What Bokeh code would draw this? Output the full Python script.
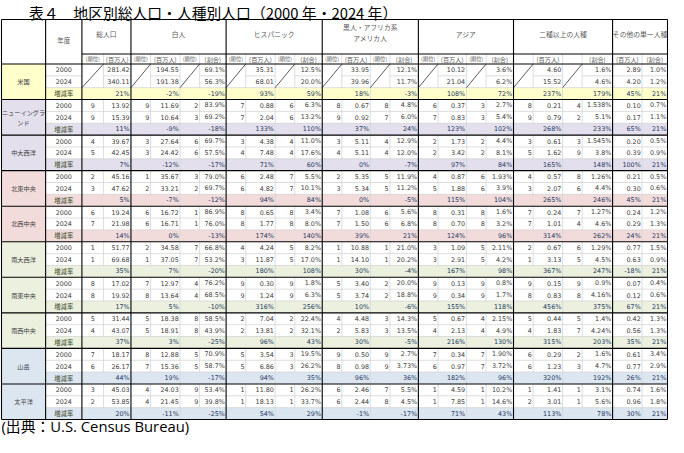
from bokeh.plotting import figure
from bokeh.models import Range1d, ColumnDataSource
from bokeh.core.properties import value
from bokeh.embed import file_html
from bokeh.resources import INLINE

title_text = "表４　地区別総人口・人種別人口（2000 年・2024 年）"
source_text = "(出典：U.S. Census Bureau)"
year_header = "年度"
regions = ["米国", "ニューイングランド", "中大西洋", "北東中央", "北西中央",
           "南大西洋", "南東中央", "南西中央", "山岳", "太平洋"]
row_labels = ["2000", "2024", "増減率"]
groups = ["総人口", "白人", "ヒスパニック", "黒人・アフリカ系\nアメリカ人",
          "アジア", "二種以上の人種", "その他の単一人種"]
sub_total = ["(順位)", "(百万人)"]
sub_race = ["(順位)", "(百万人)", "(順位)", "(割合)"]
sub_multi = ["", "(百万人)", "", "(割合)"]
sub_other = ["(百万人)", "(割合)"]

# 総人口: rank2000, pop2000, rank2024, pop2024, growth
total = [
    ["", "281.42", "", "340.11", "21%"],
    ["9", "13.92", "9", "15.39", "11%"],
    ["4", "39.67", "5", "42.45", "7%"],
    ["2", "45.16", "3", "47.62", "5%"],
    ["6", "19.24", "7", "21.98", "14%"],
    ["1", "51.77", "1", "69.68", "35%"],
    ["8", "17.02", "8", "19.92", "17%"],
    ["5", "31.44", "4", "43.07", "37%"],
    ["7", "18.17", "6", "26.17", "44%"],
    ["3", "45.03", "2", "53.85", "20%"],
]
# race groups: [rank, pop, rank, share] 2000, same 2024, growth pop, growth share
white = [
    ["", "194.55", "", "69.1%", "", "191.38", "", "56.3%", "-2%", "-19%"],
    ["9", "11.69", "2", "83.9%", "9", "10.64", "3", "69.2%", "-9%", "-18%"],
    ["3", "27.64", "6", "69.7%", "3", "24.42", "6", "57.5%", "-12%", "-17%"],
    ["1", "35.67", "3", "79.0%", "2", "33.21", "2", "69.7%", "-7%", "-12%"],
    ["6", "16.72", "1", "86.9%", "6", "16.71", "1", "76.0%", "0%", "-13%"],
    ["2", "34.58", "7", "66.8%", "1", "37.05", "7", "53.2%", "7%", "-20%"],
    ["7", "12.97", "4", "76.2%", "8", "13.64", "4", "68.5%", "5%", "-10%"],
    ["5", "18.38", "8", "58.5%", "5", "18.91", "8", "43.9%", "3%", "-25%"],
    ["8", "12.88", "5", "70.9%", "7", "15.36", "5", "58.7%", "19%", "-17%"],
    ["4", "24.03", "9", "53.4%", "4", "21.45", "9", "39.8%", "-11%", "-25%"],
]
hispanic = [
    ["", "35.31", "", "12.5%", "", "68.01", "", "20.0%", "93%", "59%"],
    ["7", "0.88", "6", "6.3%", "7", "2.04", "6", "13.2%", "133%", "110%"],
    ["3", "4.38", "4", "11.0%", "4", "7.48", "4", "17.6%", "71%", "60%"],
    ["6", "2.48", "7", "5.5%", "6", "4.82", "7", "10.1%", "94%", "84%"],
    ["8", "0.65", "8", "3.4%", "8", "1.77", "8", "8.0%", "174%", "140%"],
    ["4", "4.24", "5", "8.2%", "3", "11.87", "5", "17.0%", "180%", "108%"],
    ["9", "0.30", "9", "1.8%", "9", "1.24", "9", "6.3%", "316%", "256%"],
    ["2", "7.04", "2", "22.4%", "2", "13.81", "2", "32.1%", "96%", "43%"],
    ["5", "3.54", "3", "19.5%", "5", "6.86", "3", "26.2%", "94%", "35%"],
    ["1", "11.80", "1", "26.2%", "1", "18.13", "1", "33.7%", "54%", "29%"],
]
black = [
    ["", "33.95", "", "12.1%", "", "39.96", "", "11.7%", "18%", "-3%"],
    ["8", "0.67", "8", "4.8%", "9", "0.92", "7", "6.0%", "37%", "24%"],
    ["3", "5.11", "4", "12.9%", "4", "5.11", "4", "12.0%", "0%", "-7%"],
    ["2", "5.35", "5", "11.9%", "3", "5.34", "5", "11.2%", "0%", "-5%"],
    ["7", "1.08", "6", "5.6%", "7", "1.50", "6", "6.8%", "39%", "21%"],
    ["1", "10.88", "1", "21.0%", "1", "14.10", "1", "20.2%", "30%", "-4%"],
    ["5", "3.40", "2", "20.0%", "5", "3.74", "2", "18.8%", "10%", "-6%"],
    ["4", "4.48", "3", "14.3%", "2", "5.83", "3", "13.5%", "30%", "-5%"],
    ["9", "0.50", "9", "2.7%", "8", "0.98", "9", "3.73%", "96%", "36%"],
    ["6", "2.46", "7", "5.5%", "6", "2.44", "8", "4.5%", "-1%", "-17%"],
]
asian = [
    ["", "10.12", "", "3.6%", "", "21.04", "", "6.2%", "108%", "72%"],
    ["6", "0.37", "3", "2.7%", "7", "0.83", "3", "5.4%", "123%", "102%"],
    ["2", "1.73", "2", "4.4%", "2", "3.42", "2", "8.1%", "97%", "84%"],
    ["4", "0.87", "6", "1.93%", "5", "1.88", "6", "3.9%", "115%", "104%"],
    ["8", "0.31", "8", "1.6%", "8", "0.70", "8", "3.2%", "124%", "96%"],
    ["3", "1.09", "5", "2.11%", "3", "2.91", "5", "4.2%", "167%", "98%"],
    ["9", "0.13", "9", "0.8%", "9", "0.34", "9", "1.7%", "155%", "118%"],
    ["5", "0.67", "4", "2.15%", "4", "2.13", "4", "4.9%", "216%", "130%"],
    ["7", "0.34", "7", "1.90%", "6", "0.97", "7", "3.72%", "182%", "96%"],
    ["1", "4.59", "1", "10.2%", "1", "7.85", "1", "14.6%", "71%", "43%"],
]
multi = [
    ["", "4.60", "", "1.6%", "", "15.52", "", "4.6%", "237%", "179%"],
    ["8", "0.21", "4", "1.538%", "9", "0.79", "2", "5.1%", "268%", "233%"],
    ["3", "0.61", "3", "1.545%", "5", "1.62", "9", "3.8%", "165%", "148%"],
    ["4", "0.57", "8", "1.26%", "3", "2.07", "6", "4.4%", "265%", "246%"],
    ["7", "0.24", "7", "1.27%", "7", "1.01", "4", "4.6%", "314%", "262%"],
    ["2", "0.67", "6", "1.29%", "1", "3.13", "5", "4.5%", "367%", "247%"],
    ["9", "0.15", "9", "0.9%", "8", "0.83", "8", "4.16%", "456%", "375%"],
    ["5", "0.44", "5", "1.4%", "4", "1.83", "7", "4.24%", "315%", "203%"],
    ["6", "0.29", "2", "1.6%", "6", "1.23", "3", "4.7%", "320%", "192%"],
    ["1", "1.41", "1", "3.1%", "2", "3.01", "1", "5.6%", "113%", "78%"],
]
# other single race: pop2000, share2000, pop2024, share2024, growth pop, growth share
other = [
    ["2.89", "1.0%", "4.20", "1.2%", "45%", "21%"],
    ["0.10", "0.7%", "0.17", "1.1%", "65%", "21%"],
    ["0.20", "0.5%", "0.39", "0.9%", "100%", "21%"],
    ["0.21", "0.5%", "0.30", "0.6%", "45%", "21%"],
    ["0.24", "1.2%", "0.29", "1.3%", "24%", "21%"],
    ["0.77", "1.5%", "0.63", "0.9%", "-18%", "21%"],
    ["0.07", "0.4%", "0.12", "0.6%", "67%", "21%"],
    ["0.42", "1.3%", "0.56", "1.3%", "35%", "21%"],
    ["0.61", "3.4%", "0.77", "2.9%", "26%", "21%"],
    ["0.74", "1.6%", "0.96", "1.8%", "30%", "21%"],
]
region_colors = ["#FFFFCC", "#E4DFEC", "#E4DFEC", "#F2DCDB", "#F2DCDB",
                 "#EBF1DE", "#EBF1DE", "#EBF1DE", "#DCE6F1", "#DCE6F1"]

# ---------------- layout (reference pixel coordinates) ----------------
edges = [3, 48, 85, 107, 135, 155, 185, 205, 232, 252, 282, 302, 330, 350, 379,
         399, 428, 448, 477, 497, 525, 545, 575, 595, 626, 656, 682]
major = [3, 48, 85, 135, 232, 330, 428, 525, 626, 682]
group_cols = [(2, 4), (4, 8), (8, 12), (12, 16), (16, 20), (20, 24), (24, 26)]
TOP, HDR1, DTOP, DBOT = 27.0, 61.5, 71.5, 427.0
NROWS = 3 * len(regions)
RH = (DBOT - DTOP) / NROWS


def ry(r):
    return DTOP + r * RH


CJK = "Noto Sans CJK JP"
NUM = "DejaVu Sans"
FOOT = "'Open Sans', 'Noto Sans CJK JP'"
C_TXT = "#404040"
C_HDR = "#595959"
C_GROW = "#1F3864"

p = figure(width=668, height=437, x_range=Range1d(2, 683), y_range=Range1d(445, 8),
           output_backend="svg", toolbar_location=None, x_axis_type=None,
           y_axis_type=None, min_border=0)
p.grid.visible = False
p.outline_line_color = None
p.background_fill_color = "white"
p.border_fill_color = "white"

# backgrounds
bg = dict(left=[], right=[], top=[], bottom=[], color=[])
for b, col in enumerate(region_colors):
    r0 = 3 * b
    bg["left"] += [edges[0], edges[1]]
    bg["right"] += [edges[1], edges[-1]]
    bg["top"] += [ry(r0), ry(r0 + 2)]
    bg["bottom"] += [ry(r0 + 3), ry(r0 + 3)]
    bg["color"] += [col, col]
p.quad(left="left", right="right", top="top", bottom="bottom", fill_color="color",
       line_color=None, source=ColumnDataSource(bg))

# texts
texts = {}


def add_text(x, y, s, font, size, color, align):
    if s == "":
        return
    key = (font, size, color, align)
    d = texts.setdefault(key, dict(x=[], y=[], t=[]))
    d["x"].append(x)
    d["y"].append(y)
    d["t"].append(s)


def cell_text(c, r, s, align="right", font=NUM, size="6.4px", color=C_TXT):
    x0, x1 = edges[c], edges[c + 1]
    y = ry(r) + RH / 2
    if align == "right":
        x = x1 - 1.3
    elif align == "center":
        x = (x0 + x1) / 2
    else:
        x = x0 + 1.3
    add_text(x, y, s, font, size, color, align)


add_text(31, 19.5, title_text, CJK, "14.8px", "#000000", "left")
add_text(3, 433.5, source_text, FOOT, "14.8px", "#000000", "left")

# header
add_text((edges[1] + edges[2]) / 2, 47, year_header, CJK, "6.5px", C_HDR, "center")
for g, (c0, c1) in enumerate(group_cols):
    xm = (edges[c0] + edges[c1]) / 2
    lines = groups[g].split("\n")
    if len(lines) == 1:
        add_text(xm, 41, lines[0], CJK, "6.8px", C_HDR, "center")
    else:
        add_text(xm, 34.5, lines[0], CJK, "6.8px", C_HDR, "center")
        add_text(xm, 45.5, lines[1], CJK, "6.8px", C_HDR, "center")
subs = [sub_total, sub_race, sub_race, sub_race, sub_race, sub_multi, sub_other]
for g, (c0, c1) in enumerate(group_cols):
    for k, s in enumerate(subs[g]):
        c = c0 + k
        size = "5.3px" if s == "(順位)" else "6.2px"
        add_text((edges[c] + edges[c + 1]) / 2, (HDR1 + DTOP) / 2, s, CJK, size, C_HDR, "center")

# body
race_tables = [white, hispanic, black, asian, multi]
for b, reg in enumerate(regions):
    r0 = 3 * b
    ym = ry(r0) + 1.5 * RH
    xm = (edges[0] + edges[1]) / 2
    if len(reg) > 7:
        add_text(xm, ym - 5, reg[:7], CJK, "6.2px", C_TXT, "center")
        add_text(xm, ym + 5, reg[7:], CJK, "6.2px", C_TXT, "center")
    else:
        add_text(xm, ym, reg, CJK, "6.2px", C_TXT, "center")
    for k, lab in enumerate(row_labels):
        if k < 2:
            cell_text(1, r0 + k, lab, "center", NUM, "6.4px", C_TXT)
        else:
            cell_text(1, r0 + k, lab, "center", CJK, "6.3px", "#3A4A2A")
    t = total[b]
    cell_text(2, r0, t[0], "center")
    cell_text(3, r0, t[1])
    cell_text(2, r0 + 1, t[2], "center")
    cell_text(3, r0 + 1, t[3])
    cell_text(3, r0 + 2, t[4], color=C_GROW)
    for gi, tab in enumerate(race_tables):
        c0 = group_cols[gi + 1][0]
        v = tab[b]
        for k in range(4):
            cell_text(c0 + k, r0, v[k])
            cell_text(c0 + k, r0 + 1, v[4 + k])
        cell_text(c0 + 1, r0 + 2, v[8], color=C_GROW)
        cell_text(c0 + 3, r0 + 2, v[9], color=C_GROW)
    o = other[b]
    cell_text(24, r0, o[0])
    cell_text(25, r0, o[1])
    cell_text(24, r0 + 1, o[2])
    cell_text(25, r0 + 1, o[3])
    cell_text(24, r0 + 2, o[4], color=C_GROW)
    cell_text(25, r0 + 2, o[5], color=C_GROW)

# lines
blk = dict(x0=[], y0=[], x1=[], y1=[])
gry = dict(x0=[], y0=[], x1=[], y1=[])
dia = dict(x0=[], y0=[], x1=[], y1=[])


def seg(d, x0, y0, x1, y1):
    d["x0"].append(x0)
    d["y0"].append(y0)
    d["x1"].append(x1)
    d["y1"].append(y1)


rank_cols = [2, 4, 6, 8, 10, 12, 14, 16, 18, 20, 22]
minor = [e for e in edges if e not in major]
pair_edges = [185, 282, 379, 477, 575, 656]
for b in range(len(regions)):
    r0 = 3 * b
    if b == 0:
        for c in range(1, 26):
            if c not in rank_cols:
                seg(gry, edges[c], ry(r0 + 1), edges[c + 1], ry(r0 + 1))
        for c in rank_cols:
            seg(dia, edges[c], ry(r0 + 2), edges[c + 1], ry(r0))
    else:
        seg(gry, edges[1], ry(r0 + 1), edges[-1], ry(r0 + 1))
    seg(gry, edges[1], ry(r0 + 2), edges[-1], ry(r0 + 2))
    for e in minor:
        seg(gry, e, ry(r0), e, ry(r0 + 2))
    for e in pair_edges:
        seg(gry, e, ry(r0 + 2), e, ry(r0 + 3))
for e in minor:
    seg(gry, e, HDR1, e, DTOP)
p.segment(x0="x0", y0="y0", x1="x1", y1="y1", line_color="#D4D4D4", line_width=0.8,
          source=ColumnDataSource(gry))

seg(blk, edges[0], TOP, edges[-1], TOP)
seg(blk, edges[2], HDR1, edges[-1], HDR1)
seg(blk, edges[0], DTOP, edges[-1], DTOP)
for b in range(len(regions)):
    seg(blk, edges[0], ry(3 * b + 3), edges[-1], ry(3 * b + 3))
for e in major:
    seg(blk, e, TOP, e, DBOT)
p.segment(x0="x0", y0="y0", x1="x1", y1="y1", line_color="#000000", line_width=1.1,
          source=ColumnDataSource(blk))
p.segment(x0="x0", y0="y0", x1="x1", y1="y1", line_color="#303030", line_width=0.8,
          source=ColumnDataSource(dia))

for (font, size, color, align), d in texts.items():
    p.text(x="x", y="y", text="t", source=ColumnDataSource(d), text_font=value(font),
           text_font_size=size, text_color=color, text_align=align,
           text_baseline="middle")

open("out.html", "w").write(file_html(p, INLINE))
